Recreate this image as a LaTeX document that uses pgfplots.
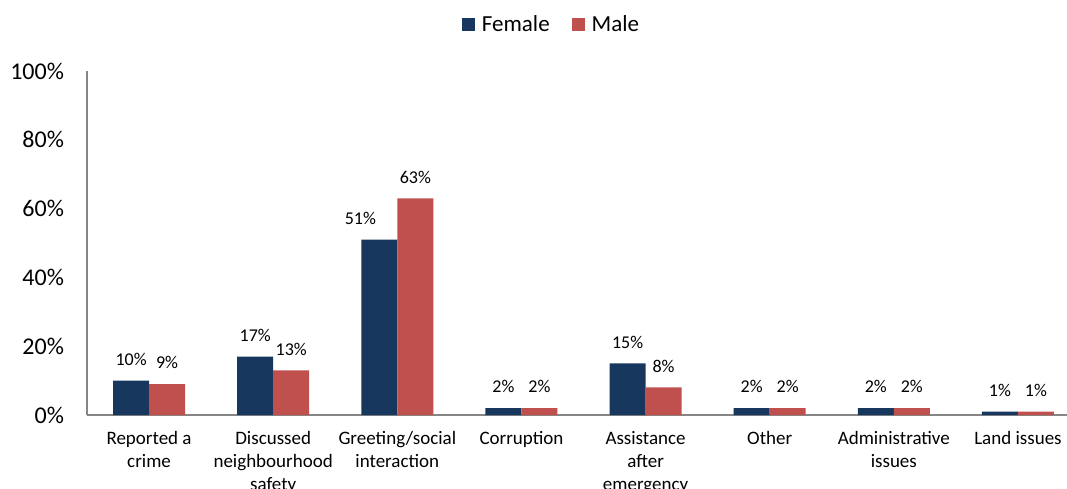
\documentclass[border=0pt]{standalone}
\usepackage{pgfplots}
\pgfplotsset{compat=1.18}
\usepackage{pgfplotstable}
\usepackage{fontspec}
\setmainfont{Carlito}
\definecolor{fem}{HTML}{17375E}
\definecolor{mal}{HTML}{C0504D}
\definecolor{axgray}{HTML}{868686}

\pgfplotstableread{
x y dx dy
0 10 0 0
1 17 0 0
2 51 -9.5 0
3 2 0 0
4 15 0 0
5 2 0 0
6 2 0 0
7 1 0 0
}\femdata
\pgfplotstableread{
x y
0 9
1 13
2 63
3 2
4 8
5 2
6 2
7 1
}\maldata

\begin{document}
\begin{tikzpicture}
\begin{axis}[
  at={(0,0)}, anchor=south west, scale only axis,
  width=490pt, height=172pt,
  xmin=-0.5, xmax=7.395, ymin=0, ymax=100,
  ybar=0pt, bar width=18pt,
  axis x line*=bottom, axis y line*=left,
  axis line style={draw=axgray, line width=0.8pt},
  major tick length=0pt,
  /pgf/number format/assume math mode=true,
  ytick={0,20,40,60,80,100},
  yticklabel={\pgfmathprintnumber{\tick}\%},
  yticklabel style={font=\fontsize{12}{14}\selectfont, xshift=-8pt},
  xtick={0,1,2,3,4,5,6,7},
  xticklabels={Reported a\\crime, Discussed\\neighbourhood\\safety, Greeting/social\\interaction, Corruption, Assistance\\after\\emergency, Other, Administrative\\issues, Land issues},
  xticklabel style={align=center, font=\fontsize{9.5}{11.5}\selectfont, yshift=-4.5pt},
  nodes near coords={\pgfmathprintnumber{\pgfplotspointmeta}\%},
  every node near coord/.append style={font=\fontsize{9}{11}\selectfont, text=black, yshift=4pt},
  legend columns=2,
  legend style={at={(0.475,1.134)}, anchor=center, draw=none, fill=none,
    font=\fontsize{11.5}{13}\selectfont,
    /tikz/every odd column/.append style={column sep=1.5pt},
    /tikz/every even column/.append style={column sep=9pt}},
  legend image code/.code={\fill[#1] (0pt,-3.25pt) rectangle (6.5pt,3.25pt);},
]
\addplot[fill=fem, draw=none,
  visualization depends on={\thisrow{dx} \as \dx},
  visualization depends on={\thisrow{dy} \as \dy},
  every node near coord/.append style={xshift=\dx pt, yshift=\dy pt}]
  table[x=x, y=y] {\femdata};
\addplot[fill=mal, draw=none] table[x=x, y=y] {\maldata};
\legend{Female, Male}
\end{axis}
\pgfresetboundingbox
\path (-43.5pt,-36.5pt) rectangle (490pt,207.5pt);
\end{tikzpicture}
\end{document}
